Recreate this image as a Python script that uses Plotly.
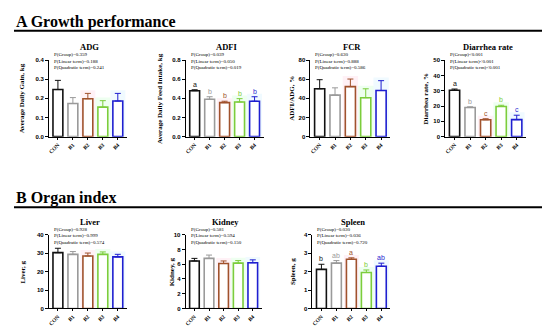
import plotly.graph_objects as go

W, H = 550, 327

groups = ["CON", "B1", "B2", "B3", "B4"]
group_colors = ["#111111", "#9a9a9a", "#a0522d", "#7ccd3c", "#1f1fd0"]

adg_mean = [0.246, 0.173, 0.198, 0.154, 0.186]
adg_err = [0.048, 0.031, 0.028, 0.034, 0.040]
adg_letters = ["", "", "", "", ""]
adg_p = ["P(Group)=0.359", "P(Linear term)=0.188", "P(Quadratic term)=0.241"]

adfi_mean = [0.48, 0.39, 0.356, 0.362, 0.37]
adfi_err = [0.01, 0.027, 0.014, 0.035, 0.047]
adfi_letters = ["a", "b", "b", "b", "b"]
adfi_p = ["P(Group)=0.039", "P(Linear term)=0.050", "P(Quadratic term)=0.019"]

fcr_mean = [50.0, 43.4, 52.3, 40.7, 48.2]
fcr_err = [9.5, 7.6, 7.9, 9.3, 10.3]
fcr_letters = ["", "", "", "", ""]
fcr_p = ["P(Group)=0.630", "P(Linear term)=0.888", "P(Quadratic term)=0.586"]

diar_mean = [30.3, 19.0, 11.0, 19.7, 11.1]
diar_err = [0.8, 0.5, 0.7, 0.8, 2.9]
diar_letters = ["a", "b", "c", "b", "c"]
diar_p = ["P(Group)<0.001", "P(Linear term)<0.001", "P(Quadratic term)<0.001"]

liver_mean = [30.3, 29.4, 28.5, 29.4, 28.0]
liver_err = [2.4, 1.5, 1.6, 1.3, 1.4]
liver_letters = ["", "", "", "", ""]
liver_p = ["P(Group)=0.928", "P(Linear term)=0.999", "P(Quadratic term)=0.574"]

kidney_mean = [6.45, 6.8, 6.1, 6.15, 6.2]
kidney_err = [0.35, 0.45, 0.35, 0.35, 0.4]
kidney_letters = ["", "", "", "", ""]
kidney_p = ["P(Group)=0.581", "P(Linear term)=0.594", "P(Quadratic term)=0.150"]

spleen_mean = [2.12, 2.46, 2.67, 1.95, 2.29]
spleen_err = [0.28, 0.14, 0.08, 0.14, 0.17]
spleen_letters = ["b", "ab", "a", "b", "ab"]
spleen_p = ["P(Group)=0.030", "P(Linear term)=0.036", "P(Quadratic term)=0.720"]

def px(x):
    return x / W

def py(y):
    return 1 - y / H

# (title, ytitle, mean, err, letters, pvals, ymax, dtick, fmt, x0, x1, ytop, ybot, ytitle_x)
panels = [
    ("ADG", "Average Daily Gain, kg", adg_mean, adg_err, adg_letters, adg_p, 0.4, 0.1, ".1f", 40, 118, 50, 128, 13),
    ("ADFI", "Average Daily Feed Intake, kg", adfi_mean, adfi_err, adfi_letters, adfi_p, 0.8, 0.2, ".1f", 177, 255, 50, 128, 152),
    ("FCR", "ADFI/ADG, %", fcr_mean, fcr_err, fcr_letters, fcr_p, 80, 20, "d", 302, 382, 50, 128, 284),
    ("Diarrhea rate", "Diarrhea rate, %", diar_mean, diar_err, diar_letters, diar_p, 50, 10, "d", 437, 518, 50, 128, 418),
    ("Liver", "Liver, g", liver_mean, liver_err, liver_letters, liver_p, 40, 10, "d", 40, 118, 228, 303, 14),
    ("Kidney", "Kidney, g", kidney_mean, kidney_err, kidney_letters, kidney_p, 10, 2, "d", 177, 253, 228, 303, 163),
    ("Spleen", "Spleen, g", spleen_mean, spleen_err, spleen_letters, spleen_p, 4, 1, "d", 304, 382, 228, 303, 284),
]

shade_colors = {2: "rgba(255,170,200,0.16)", 3: "rgba(160,255,170,0.18)", 4: "rgba(170,225,255,0.18)"}

fig = go.Figure()
annotations = []
shapes = []

serif = "Liberation Serif"
sans = "Liberation Sans"

for n, (title, ytitle, mean, err, letters, pvals, ymax, dtick, fmt, x0, x1, ytop, ybot, ytx) in enumerate(panels, start=1):
    xa, ya = f"x{n}", f"y{n}"
    for i, g in enumerate(groups):
        fig.add_trace(go.Bar(
            x=[i], y=[mean[i]], width=0.66, xaxis=xa, yaxis=ya,
            marker=dict(color="white", line=dict(color=group_colors[i], width=1.6)),
            error_y=dict(type="data", array=[err[i]], arrayminus=[0], symmetric=False,
                         color=group_colors[i], thickness=1, width=3),
            showlegend=False, hoverinfo="skip"))
        if letters[i]:
            annotations.append(dict(x=i, y=mean[i] + err[i], xref=xa, yref=ya, text=letters[i],
                                    showarrow=False, yanchor="bottom", yshift=0,
                                    font=dict(family=sans, size=7, color=group_colors[i])))
        if i in shade_colors:
            shapes.append(dict(type="rect", xref=xa, yref=ya, x0=i - 0.5, x1=i + 0.5, y0=0,
                               y1=mean[i] + err[i] + 0.04 * ymax, fillcolor=shade_colors[i],
                               line=dict(width=0), layer="below"))
    fig.layout[f"xaxis{n}"] = dict(
        domain=[px(x0), px(x1)], anchor=ya, range=[-0.6, 4.6],
        tickvals=list(range(5)), ticktext=groups, tickangle=-45,
        showline=True, linecolor="black", linewidth=1, ticks="outside", ticklen=2,
        tickcolor="black", tickfont=dict(family=serif, size=5.5, weight="bold", color="black"),
        showgrid=False, zeroline=False, fixedrange=True)
    fig.layout[f"yaxis{n}"] = dict(
        domain=[py(ybot), py(ytop)], anchor=xa, range=[0, ymax], dtick=dtick, tick0=0,
        tickformat=fmt, showline=True, linecolor="black", linewidth=1, ticks="outside",
        ticklen=3, tickcolor="black",
        tickfont=dict(family=sans, size=6, weight="bold", color="black"),
        showgrid=False, zeroline=False, fixedrange=True)
    # panel title
    annotations.append(dict(x=px((x0 + x1) / 2 + 2), y=py(ytop - 13), xref="paper", yref="paper",
                            text=title, showarrow=False, xanchor="center", yanchor="middle",
                            font=dict(family=serif, size=8.5, weight="bold", color="black")))
    for k, t in enumerate(pvals):
        annotations.append(dict(x=px(x0 + 3), y=py(ytop - 5.5 + 6.5 * k), xref="paper", yref="paper",
                                text=t, showarrow=False, xanchor="left", yanchor="middle",
                                font=dict(family=serif, size=5, color="black")))
    annotations.append(dict(x=px(ytx), y=py((ytop + ybot) / 2), xref="paper", yref="paper",
                            text=ytitle, showarrow=False, textangle=-90,
                            xanchor="center", yanchor="middle",
                            font=dict(family=serif, size=7, weight="bold", color="black")))

# section headers
for text, ty, ly in [("A Growth performance", 11, 20), ("B Organ index", 191, 200)]:
    annotations.append(dict(x=px(5), y=py(ty), xref="paper", yref="paper", text=text,
                            showarrow=False, xanchor="left", yanchor="middle",
                            font=dict(family=serif, size=16, weight="bold", color="black")))
    shapes.append(dict(type="line", xref="paper", yref="paper", x0=px(5), x1=px(545),
                       y0=py(ly), y1=py(ly), line=dict(color="black", width=2)))

fig.update_layout(
    width=W, height=H, margin=dict(l=0, r=0, t=0, b=0),
    paper_bgcolor="white", plot_bgcolor="rgba(0,0,0,0)",
    barmode="overlay", annotations=annotations, shapes=shapes, showlegend=False)

fig.write_html("out.html")
